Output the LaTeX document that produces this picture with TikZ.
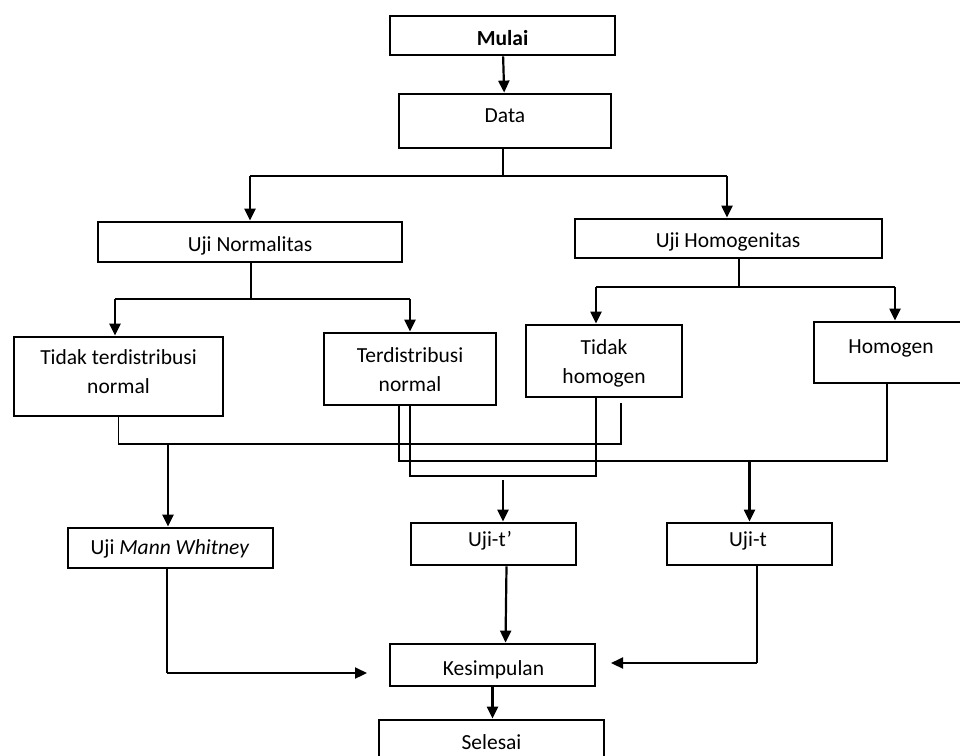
\documentclass[tikz,border=0pt]{standalone}
\usepackage{fontspec}
\setmainfont{Carlito}
\usetikzlibrary{arrows.meta}
\begin{document}
\begin{tikzpicture}[x=1pt,y=-1pt,
  box/.style={draw=black, line width=2.8pt, inner sep=0pt},
  txt/.style={font=\fontsize{21.5}{28.5}\selectfont, align=center, anchor=base, inner sep=0pt, text=black},
  conn/.style={draw=black, line width=1.2pt},
  arr/.style={draw=black, line width=2.2pt, -{Triangle[length=12pt,width=11pt]}}]
\clip (0,0) rectangle (960,755);
\fill[white] (0,0) rectangle (960,755);

% boxes
\node[box, minimum width=225pt, minimum height=39pt] (mulai) at (502.5,35.5) {};
\node[box, minimum width=212pt, minimum height=54pt] (data) at (505,121) {};
\node[box, minimum width=304pt, minimum height=40pt] (norm) at (250,242) {};
\node[box, minimum width=307pt, minimum height=39pt] (homog) at (728.5,238.5) {};
\node[box, minimum width=209pt, minimum height=79pt] (tdn) at (118.5,376.5) {};
\node[box, minimum width=172pt, minimum height=72pt] (tn) at (410,369) {};
\node[box, minimum width=156pt, minimum height=72pt] (th) at (604,361) {};
\node[box, minimum width=154pt, minimum height=61pt] (hom) at (891,352.5) {};
\node[box, minimum width=205pt, minimum height=40pt] (mw) at (170.5,548) {};
\node[box, minimum width=165pt, minimum height=42pt] (ujitp) at (493.5,544) {};
\node[box, minimum width=165pt, minimum height=42pt] (ujit) at (749.5,544) {};
\node[box, minimum width=205pt, minimum height=42pt] (kes) at (492.5,665) {};
\node[box, minimum width=225pt, minimum height=70pt] (sel) at (491.5,755) {};

% texts
\node[txt, font=\fontsize{21.5}{28.5}\selectfont\bfseries] (mulaiT) at (502.5,45) {Mulai};
\node[txt] (dataT) at (505,122) {Data};
\node[txt] (normT) at (250,251) {Uji Normalitas};
\node[txt] (homogT) at (728,247) {Uji Homogenitas};
\node[txt] (tdnT) at (118.5,393) {Tidak terdistribusi\\normal};
\node[txt] (tnT) at (410,391) {Terdistribusi\\normal};
\node[txt] (thT) at (604,383) {Tidak\\homogen};
\node[txt] (homT) at (891,353) {Homogen};
\node[txt] (mwT) at (170,554) {Uji \textit{Mann Whitney}};
\node[txt] (ujitpT) at (490,546) {Uji-t’};
\node[txt] (ujitT) at (748,546) {Uji-t};
\node[txt] (kesT) at (493.5,675) {Kesimpulan};
\node[txt] (selT) at (491.5,749) {Selesai};

% top connectors
\draw[arr] (mulai) -- (data);
\coordinate (d1) at (503,176);
\coordinate (dl) at (250,176);
\coordinate (dr) at (727,176);
\draw[conn] (d1 |- data.south) -- (d1);
\draw[conn] (dl) -- (dr);
\draw[arr] (dl) -- (dl |- norm.north);
\draw[arr] (dr) -- (dr |- homog.north);

\coordinate (n0) at (251,299);
\coordinate (n1) at (115,299);
\coordinate (n2) at (410,299);
\draw[conn] (n0 |- norm.south) -- (n0);
\draw[conn] (n1) -- (n2);
\draw[arr] (n1) -- (n1 |- tdn.north);
\draw[arr] (n2) -- (n2 |- tn.north);

\coordinate (h0) at (739,287);
\coordinate (h1) at (596,287);
\coordinate (h2) at (895,287);
\draw[conn] (h0 |- homog.south) -- (h0);
\draw[conn] (h1) -- (h2);
\draw[arr] (h1) -- (h1 |- th.north);
\draw[arr] (h2) -- (h2 |- hom.north);

% middle network
\coordinate (a1) at (118.5,444);
\coordinate (a2) at (621,444);
\coordinate (a3) at (621,403);
\draw[conn] (tdn.south) -- (a1) -- (a2) -- (a3);
\coordinate (j1) at (168,444);
\draw[arr] (j1) -- (j1 |- mw.north);

\coordinate (b1) at (399,461);
\coordinate (b2) at (887,461);
\draw[conn] (b1 |- tn.south) -- (b1) -- (b2) -- (b2 |- hom.south);
\coordinate (j2) at (749.5,461);
\draw[arr] (j2) -- (ujit.north);

\coordinate (c1) at (410,476);
\coordinate (c2) at (596,476);
\draw[conn] (tn.south) -- (c1) -- (c2) -- (c2 |- th.south);
\coordinate (j3) at (503,480);
\draw[arr] (j3) -- (j3 |- ujitp.north);

% bottom connectors
\coordinate (m1) at (167,673);
\coordinate (m2) at (367,673);
\draw[conn] (m1 |- mw.south) -- (m1);
\draw[arr] (m1) -- (m2);
\draw[arr] ([xshift=13pt]ujitp.south) -- ([xshift=13pt]kes.north);
\coordinate (t1) at (757,663);
\coordinate (t2) at (611,663);
\draw[conn] (t1 |- ujit.south) -- (t1);
\draw[arr] (t1) -- (t2);
\draw[arr] (kes.south) -- (kes.south |- sel.north);
\end{tikzpicture}
\end{document}
